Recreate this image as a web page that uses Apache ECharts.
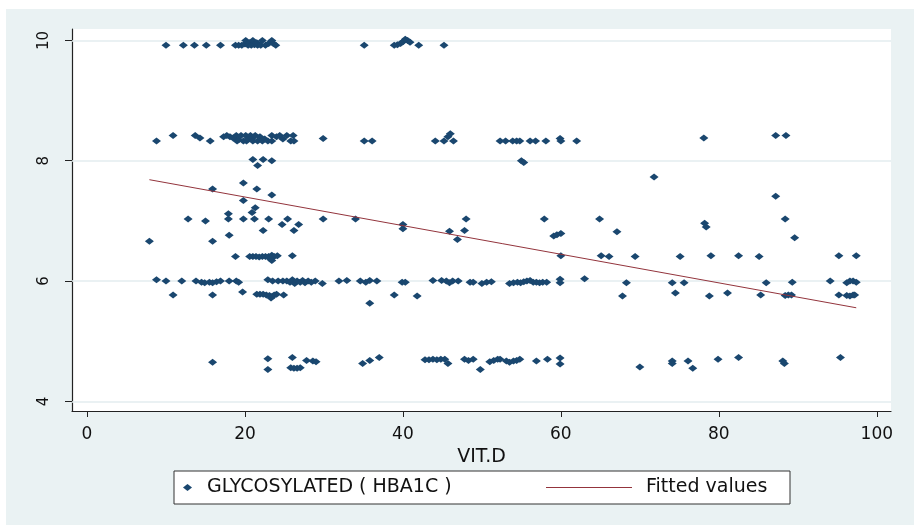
<!DOCTYPE html>
<html>
<head>
<meta charset="utf-8">
<script src="https://cdn.jsdelivr.net/npm/echarts@6/dist/echarts.min.js"></script>
<style>
  html, body { margin: 0; padding: 0; background: #fff; }
  #hba1c-scatter { width: 914px; height: 525px; }
</style>
</head>
<body>
<div id="hba1c-scatter"></div>
<script>
// VIT.D vs GLYCOSYLATED (HBA1C), points grouped by the bands they sit in
const band10 = [
  [10.0, 9.92], [12.2, 9.92], [13.6, 9.92], [15.1, 9.92], [16.9, 9.92],
  [18.8, 9.92], [19.2, 9.92], [19.6, 9.92], [20.0, 9.94], [20.1, 10.0], [20.4, 9.92],
  [20.6, 9.96], [20.8, 9.92], [21.0, 10.0], [21.2, 9.93], [21.5, 9.96], [21.6, 9.92],
  [22.0, 9.92], [22.2, 10.0], [22.6, 9.92], [23.0, 9.95], [23.4, 10.0], [23.6, 9.95], [23.9, 9.92],
  [35.1, 9.92], [38.9, 9.92], [39.3, 9.93], [39.7, 9.95], [40.0, 9.98], [40.3, 10.02],
  [40.6, 10.0], [40.9, 9.97], [42.0, 9.92], [45.2, 9.92]
]
const band83 = [
  [8.8, 8.33], [10.9, 8.42], [13.7, 8.42], [14.3, 8.38], [15.6, 8.33],
  [17.3, 8.40], [17.7, 8.42], [18.1, 8.40], [18.5, 8.38], [18.9, 8.42], [19.0, 8.33],
  [19.2, 8.35], [19.5, 8.42], [19.8, 8.33], [20.1, 8.42], [20.2, 8.33], [20.4, 8.36],
  [20.7, 8.42], [20.9, 8.38], [21.0, 8.33], [21.3, 8.42], [21.6, 8.33], [21.9, 8.40],
  [22.2, 8.33], [22.5, 8.36], [22.9, 8.33], [23.4, 8.42], [23.4, 8.33], [24.0, 8.40],
  [24.4, 8.42], [24.8, 8.36], [25.3, 8.42], [25.8, 8.33], [26.1, 8.42], [26.2, 8.33],
  [29.9, 8.37], [35.1, 8.33], [36.1, 8.33], [44.1, 8.33], [45.2, 8.33], [45.7, 8.40],
  [46.0, 8.45], [46.4, 8.33], [52.3, 8.33], [53.0, 8.33], [53.9, 8.33], [54.4, 8.33],
  [54.8, 8.33], [56.1, 8.33], [56.8, 8.33], [58.1, 8.33], [59.9, 8.37], [60.0, 8.33],
  [62.0, 8.33], [78.1, 8.38], [87.2, 8.42], [88.5, 8.42]
]
const band7 = [
  [21.0, 8.02], [22.3, 8.02], [23.4, 8.0], [21.6, 7.92], [55.0, 8.0], [55.3, 7.97],
  [71.8, 7.73], [19.8, 7.63], [15.9, 7.53], [21.5, 7.53], [23.4, 7.43], [19.8, 7.34],
  [21.3, 7.22], [20.9, 7.14], [17.9, 7.12], [87.2, 7.41],
  [12.8, 7.03], [15.0, 7.0], [17.9, 7.03], [19.8, 7.03], [21.2, 7.03], [23.0, 7.03],
  [24.7, 6.94], [25.4, 7.03], [26.2, 6.84], [26.8, 6.94], [29.9, 7.03], [34.0, 7.03],
  [40.0, 6.94], [40.0, 6.87], [45.9, 6.83], [47.8, 6.84], [48.0, 7.03], [46.9, 6.69],
  [57.9, 7.03], [59.1, 6.75], [59.5, 6.77], [60.0, 6.79], [64.9, 7.03], [67.1, 6.82],
  [78.2, 6.96], [78.4, 6.90], [88.4, 7.03], [89.6, 6.72],
  [22.3, 6.84], [7.9, 6.66], [15.9, 6.66], [18.0, 6.76]
]
const band64 = [
  [18.8, 6.41], [20.6, 6.41], [21.0, 6.41], [21.4, 6.41], [21.8, 6.40], [22.2, 6.41],
  [22.6, 6.41], [23.0, 6.41], [23.4, 6.43], [23.7, 6.41], [24.1, 6.42], [23.4, 6.34],
  [23.2, 6.37], [26.0, 6.42], [60.0, 6.42], [65.1, 6.42], [66.1, 6.41], [69.4, 6.41],
  [75.1, 6.41], [79.0, 6.42], [82.5, 6.42], [85.1, 6.41], [95.2, 6.42], [97.4, 6.42]
]
const band6 = [
  [8.8, 6.02], [10.0, 6.0], [12.0, 6.0], [13.8, 6.0], [14.5, 5.98], [14.9, 5.97],
  [15.5, 5.98], [15.9, 5.97], [16.4, 5.99], [16.9, 6.0], [18.0, 6.0], [18.9, 6.0],
  [19.2, 5.98], [22.9, 6.02], [23.5, 6.0], [24.2, 6.0], [24.8, 6.0], [25.3, 6.0],
  [25.7, 5.98], [26.0, 6.02], [26.3, 5.96], [26.6, 6.0], [27.0, 5.98], [27.3, 6.01],
  [27.6, 5.97], [28.0, 6.0], [28.4, 5.98], [28.9, 6.0], [29.8, 5.96], [31.9, 6.0],
  [32.9, 6.01], [34.6, 6.0], [35.3, 5.98], [35.8, 6.01], [36.7, 6.0], [39.9, 5.98],
  [40.3, 5.98], [43.8, 6.01], [44.9, 6.01], [45.5, 6.0], [45.9, 5.97], [46.3, 6.0],
  [47.0, 6.0], [48.5, 5.98], [48.9, 5.98], [50.0, 5.96], [50.6, 5.98], [51.2, 5.99],
  [53.5, 5.96], [54.0, 5.97], [54.5, 5.98], [54.9, 5.97], [55.3, 5.99], [55.7, 6.0],
  [56.1, 6.01], [56.5, 5.98], [56.9, 5.98], [57.3, 5.97], [57.7, 5.98], [58.2, 5.98],
  [59.9, 6.03], [59.9, 5.97], [63.0, 6.04], [68.3, 5.97], [74.1, 5.97], [75.6, 5.97],
  [86.0, 5.97], [89.3, 5.98], [94.1, 6.0], [96.2, 5.97], [96.6, 6.0], [97.0, 6.0], [97.4, 5.98]
]
const band58 = [
  [10.9, 5.77], [15.9, 5.77], [19.7, 5.82], [21.5, 5.78], [21.9, 5.78], [22.3, 5.78],
  [22.7, 5.77], [23.1, 5.76], [23.4, 5.74], [23.7, 5.77], [24.0, 5.78], [23.3, 5.72],
  [24.9, 5.77], [38.9, 5.77], [35.8, 5.63], [41.8, 5.75], [67.8, 5.75], [74.5, 5.80],
  [78.8, 5.75], [81.1, 5.80], [85.3, 5.77], [88.4, 5.76], [88.8, 5.77], [89.2, 5.77],
  [95.2, 5.77], [96.2, 5.76], [96.6, 5.75], [97.0, 5.77], [97.2, 5.77]
]
const band47 = [
  [15.9, 4.65], [22.9, 4.71], [22.9, 4.53], [26.0, 4.73], [25.8, 4.56], [26.2, 4.55],
  [26.6, 4.55], [27.0, 4.56], [27.8, 4.68], [28.6, 4.67], [29.0, 4.66], [34.9, 4.63],
  [35.8, 4.68], [37.0, 4.73], [42.8, 4.69], [43.3, 4.69], [43.8, 4.70], [44.3, 4.69],
  [44.8, 4.70], [45.3, 4.70], [45.7, 4.63], [47.8, 4.70], [48.3, 4.68], [48.9, 4.70],
  [49.8, 4.53], [51.0, 4.66], [51.5, 4.68], [52.0, 4.70], [52.3, 4.70], [53.1, 4.67],
  [53.5, 4.65], [54.0, 4.67], [54.4, 4.68], [54.8, 4.70], [56.9, 4.67], [58.3, 4.70],
  [59.9, 4.72], [59.9, 4.62], [70.0, 4.57], [74.1, 4.67], [74.1, 4.63], [76.1, 4.67],
  [76.7, 4.55], [79.9, 4.70], [82.5, 4.73], [88.1, 4.67], [88.3, 4.63], [95.4, 4.73]
]
const fitX = [7.9, 97.4]
const fitY = [7.685, 5.556]
const xTicks = [0, 20, 40, 60, 80, 100]
const yTicks = [4, 6, 8, 10]

const points = band10.concat(band83, band7, band64, band6, band58, band47)
const fitted = fitX.map(function (x, i) { return [x, fitY[i]] })

const navy = '#1a476f'
const maroon = '#93343c'
const bg = '#eaf2f3'
const font = 'DejaVu Sans'

let myChart = echarts.init(document.getElementById('hba1c-scatter'))
myChart.setOption({
  backgroundColor: bg,
  animation: false,
  textStyle: { fontFamily: font },
  grid: {
    left: 72, right: 23, top: 29, bottom: 114,
    show: true, backgroundColor: '#fff', borderWidth: 0
  },
  graphic: [
    { type: 'rect', shape: { x: 0, y: 0, width: 914, height: 9 }, style: { fill: '#fff' }, silent: true },
    { type: 'rect', shape: { x: 0, y: 0, width: 6, height: 525 }, style: { fill: '#fff' }, silent: true },
    {
      type: 'rect', z: 1,
      shape: { x: 174, y: 471, width: 616, height: 33 },
      style: { fill: '#fff', stroke: '#333', lineWidth: 1 }, silent: true
    }
  ],
  legend: [
    {
      data: [{ name: 'GLYCOSYLATED ( HBA1C )', icon: 'diamond' }],
      left: 183, top: 478, padding: 0, z: 5,
      itemWidth: 9, itemHeight: 7,
      textStyle: { fontFamily: font, fontSize: 19, color: '#111', padding: [0, 0, 0, 10] }
    },
    {
      data: [{ name: 'Fitted values', icon: 'rect' }],
      left: 546, top: 478, padding: 0, z: 5,
      itemWidth: 86, itemHeight: 1.2,
      itemStyle: { color: maroon },
      textStyle: { fontFamily: font, fontSize: 19, color: '#111', padding: [0, 0, 0, 9] }
    }
  ],
  xAxis: {
    type: 'value',
    min: -1.9, max: 101.8,
    name: 'VIT.D', nameLocation: 'middle', nameGap: 26,
    nameTextStyle: { fontFamily: font, fontSize: 19, color: '#111' },
    axisLine: { onZero: false, lineStyle: { color: '#222', width: 1.2 } },
    axisTick: { customValues: xTicks, length: 6, lineStyle: { color: '#222' } },
    axisLabel: { customValues: xTicks, margin: 15, fontSize: 17, color: '#111', fontFamily: font },
    splitLine: { show: false }
  },
  yAxis: {
    type: 'value',
    min: 3.84, max: 10.19,
    axisLine: { show: true, onZero: false, lineStyle: { color: '#222', width: 1.2 } },
    axisTick: { show: true, customValues: yTicks, length: 7, lineStyle: { color: '#222' } },
    axisLabel: { customValues: yTicks, rotate: 90, margin: 20, fontSize: 15, color: '#111', fontFamily: font },
    splitLine: { show: false }
  },
  series: [
    {
      name: 'GLYCOSYLATED ( HBA1C )',
      type: 'scatter',
      symbol: 'diamond',
      symbolSize: [9, 7],
      itemStyle: { color: navy, opacity: 1 },
      data: points,
      z: 3,
      markLine: {
        silent: true,
        symbol: 'none',
        label: { show: false },
        lineStyle: { color: '#e3ecef', width: 1.5, type: 'solid' },
        data: yTicks.map(function (v) { return { yAxis: v } }),
        z: 1
      }
    },
    {
      name: 'Fitted values',
      type: 'line',
      symbol: 'none',
      lineStyle: { color: maroon, width: 1 },
      itemStyle: { color: maroon },
      data: fitted,
      z: 4
    }
  ]
})
</script>
</body>
</html>
